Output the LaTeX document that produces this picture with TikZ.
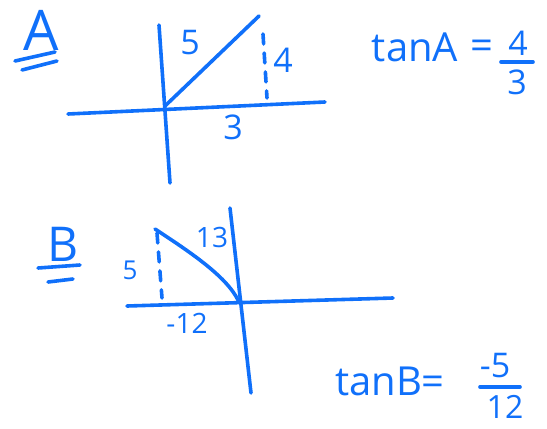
\documentclass[tikz,border=0pt]{standalone}
\usepackage{fontspec}
\setmainfont{Open Sans}
\definecolor{ink}{RGB}{16,112,250}
\begin{document}
\begin{tikzpicture}[x=1pt,y=-1pt, line cap=round, line join=round,
  pen/.style={draw=ink, line width=3.6pt},
  dashpen/.style={pen, dash pattern=on 10pt off 9pt},
  lbl/.style={text=ink, inner sep=0pt, font=\fontsize{34}{36}\selectfont}]
\useasboundingbox (0,0) rectangle (547,429);
% ---------- Part A ----------
\node[lbl, font=\fontsize{56}{56}\selectfont] (A) at (41,30) {A};
\coordinate (ua1) at (15,61); \coordinate (ua2) at (55,52);
\coordinate (ub1) at (22,70); \coordinate (ub2) at (57,61);
\draw[pen] (ua1) -- (ua2);
\draw[pen] (ub1) -- (ub2);
\coordinate (xA1) at (68,114); \coordinate (xA2) at (325,102);
\coordinate (yA1) at (159,25); \coordinate (yA2) at (170,183);
\coordinate (oA) at (165,106);
\coordinate (pA) at (259,16);
\coordinate (dA1) at (263,34); \coordinate (dA2) at (267,98);
\draw[pen] (xA1) -- (xA2);
\draw[pen] (yA1) -- (yA2);
\draw[pen] (oA) -- (pA);
\draw[dashpen] (dA1) -- (dA2);
\node[lbl] (a5) at (190,43) {5};
\node[lbl] (a4) at (283,60) {4};
\node[lbl] (a3) at (233,127) {3};
\node[lbl, font=\fontsize{40}{40}\selectfont] (tanA) at (415,47) {tanA};
\node[lbl, font=\fontsize{40}{40}\selectfont] (eqA) at (482,50) {=};
\node[lbl] (numA) at (518,43) {4};
\node[lbl] (denA) at (517,82) {3};
\coordinate (bA1) at (501,62); \coordinate (bA2) at (533,62);
\draw[pen] (bA1) -- (bA2);
% ---------- Part B ----------
\node[lbl, font=\fontsize{48}{48}\selectfont] (B) at (63,244) {B};
\coordinate (uc1) at (38,268); \coordinate (uc2) at (80,265);
\coordinate (ud1) at (48,282); \coordinate (ud2) at (73,279);
\draw[pen] (uc1) -- (uc2);
\draw[pen] (ud1) -- (ud2);
\coordinate (xB1) at (127,306); \coordinate (xB2) at (393,298);
\coordinate (yB1) at (230,208); \coordinate (yB2) at (251,393);
\coordinate (oB) at (238,300);
\coordinate (pB) at (155,229);
\coordinate (dB1) at (157,233); \coordinate (dB2) at (162,298);
\draw[pen] (xB1) -- (xB2);
\draw[pen] (yB1) -- (yB2);
\draw[pen] (pB) .. controls (190,252) and (226,276) .. (oB);
\draw[dashpen] (dB1) -- (dB2);
\node[lbl, font=\fontsize{26}{28}\selectfont] (b5) at (130,270) {5};
\node[lbl, font=\fontsize{28}{30}\selectfont] (b13) at (212,237) {13};
\node[lbl, font=\fontsize{28}{30}\selectfont] (b12) at (187,323) {-12};
\node[lbl, font=\fontsize{40}{40}\selectfont] (tanB) at (390,381) {tanB=};
\node[lbl] (numB) at (495,366) {-5};
\node[lbl, font=\fontsize{32}{34}\selectfont] (denB) at (505,407) {12};
\coordinate (bB1) at (480,387); \coordinate (bB2) at (520,387);
\draw[pen] (bB1) -- (bB2);
\end{tikzpicture}
\end{document}
